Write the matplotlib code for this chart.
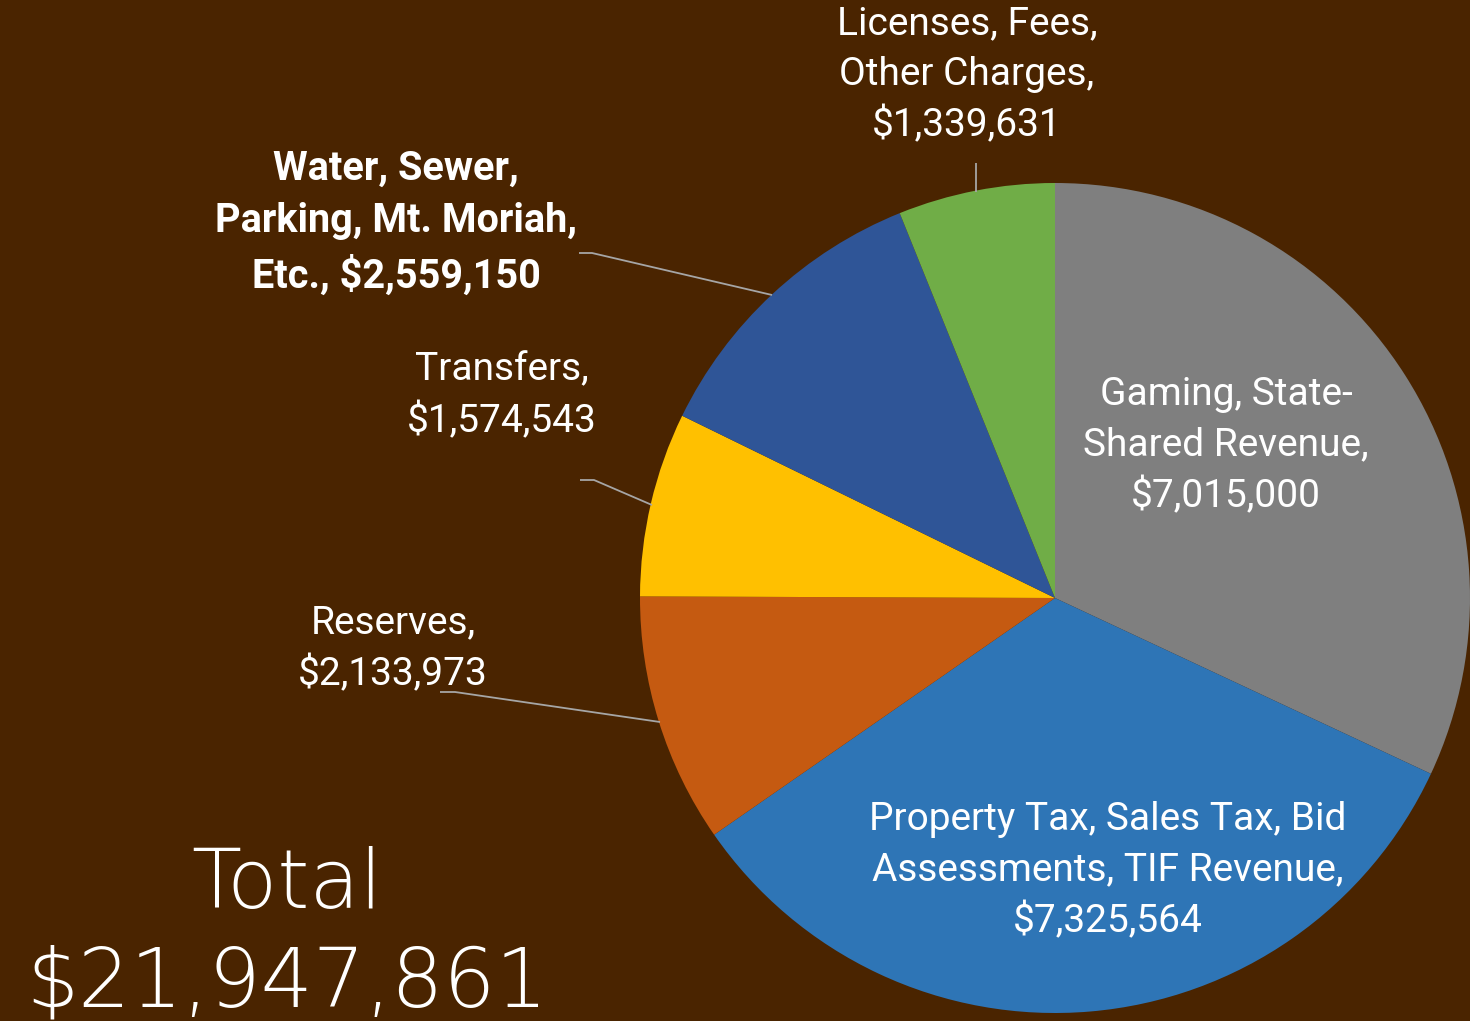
import matplotlib
matplotlib.use("Agg")
import matplotlib.pyplot as plt

W, H = 1470, 1021

categories = ["Gaming, State-\nShared Revenue,",
              "Property Tax, Sales Tax, Bid\nAssessments, TIF Revenue,",
              "Reserves,",
              "Transfers,",
              "Water, Sewer,\nParking, Mt. Moriah,\nEtc.,",
              "Licenses, Fees,\nOther Charges,"]
values = [7015000, 7325564, 2133973, 1574543, 2559150, 1339631]
colors = ["#7f7f7f", "#2e75b6", "#c55a11", "#ffc000", "#2f5597", "#70ad47"]
total_label = "Total"

bg = "#4a2400"
fig = plt.figure(figsize=(W / 100, H / 100), dpi=100, facecolor=bg)
ax = fig.add_axes([0, 0, 1, 1])
ax.set_facecolor(bg)

cx, cy, r = 1055, H - 598, 415
ax.pie(values, colors=colors, startangle=90, counterclock=False,
       center=(cx, cy), radius=r, wedgeprops=dict(linewidth=0),
       frame=True)
ax.set_xlim(0, W)
ax.set_ylim(0, H)
ax.set_aspect("equal")
ax.axis("off")

def fmt(v):
    return "${:,}".format(v)

label_font = "Roboto"
label_pos = [(1226, 446), (1108, 871), (393, 649), (502, 396), (396, 223), (967, 75)]
label_weight = ["normal", "normal", "normal", "normal", "bold", "normal"]
label_size = [28, 28, 28, 28, 28.5, 28]
for cat, v, (lx, ly), wt, fs in zip(categories, values, label_pos, label_weight, label_size):
    if cat.endswith("Etc.,"):
        txt = cat + " " + fmt(v)
    else:
        txt = cat + "\n" + fmt(v)
    ax.text(lx, H - ly, txt, ha="center", va="center", color="white",
            fontsize=fs, family=label_font, fontweight=wt, linespacing=1.46)

# leader lines
lc = "#a6a6a6"
leaders = [
    [(579, 253), (592, 253), (772, 295)],
    [(580, 480), (594, 480), (652, 505)],
    [(440, 692), (455, 692), (660, 722)],
    [(976, 163), (976, 192)],
]
for pts in leaders:
    xs = [p[0] for p in pts]
    ys = [H - p[1] for p in pts]
    ax.plot(xs, ys, color=lc, lw=1.3, solid_capstyle="butt")

total = sum(values)
ax.text(287, H - 908, total_label, ha="center", va="baseline", color="white",
        fontsize=59, family="DejaVu Sans", fontweight=200)
ax.text(287, H - 1006, fmt(total), ha="center", va="baseline", color="white",
        fontsize=59, family="DejaVu Sans", fontweight=200)

fig.savefig("out.png", dpi=100, facecolor=bg)
